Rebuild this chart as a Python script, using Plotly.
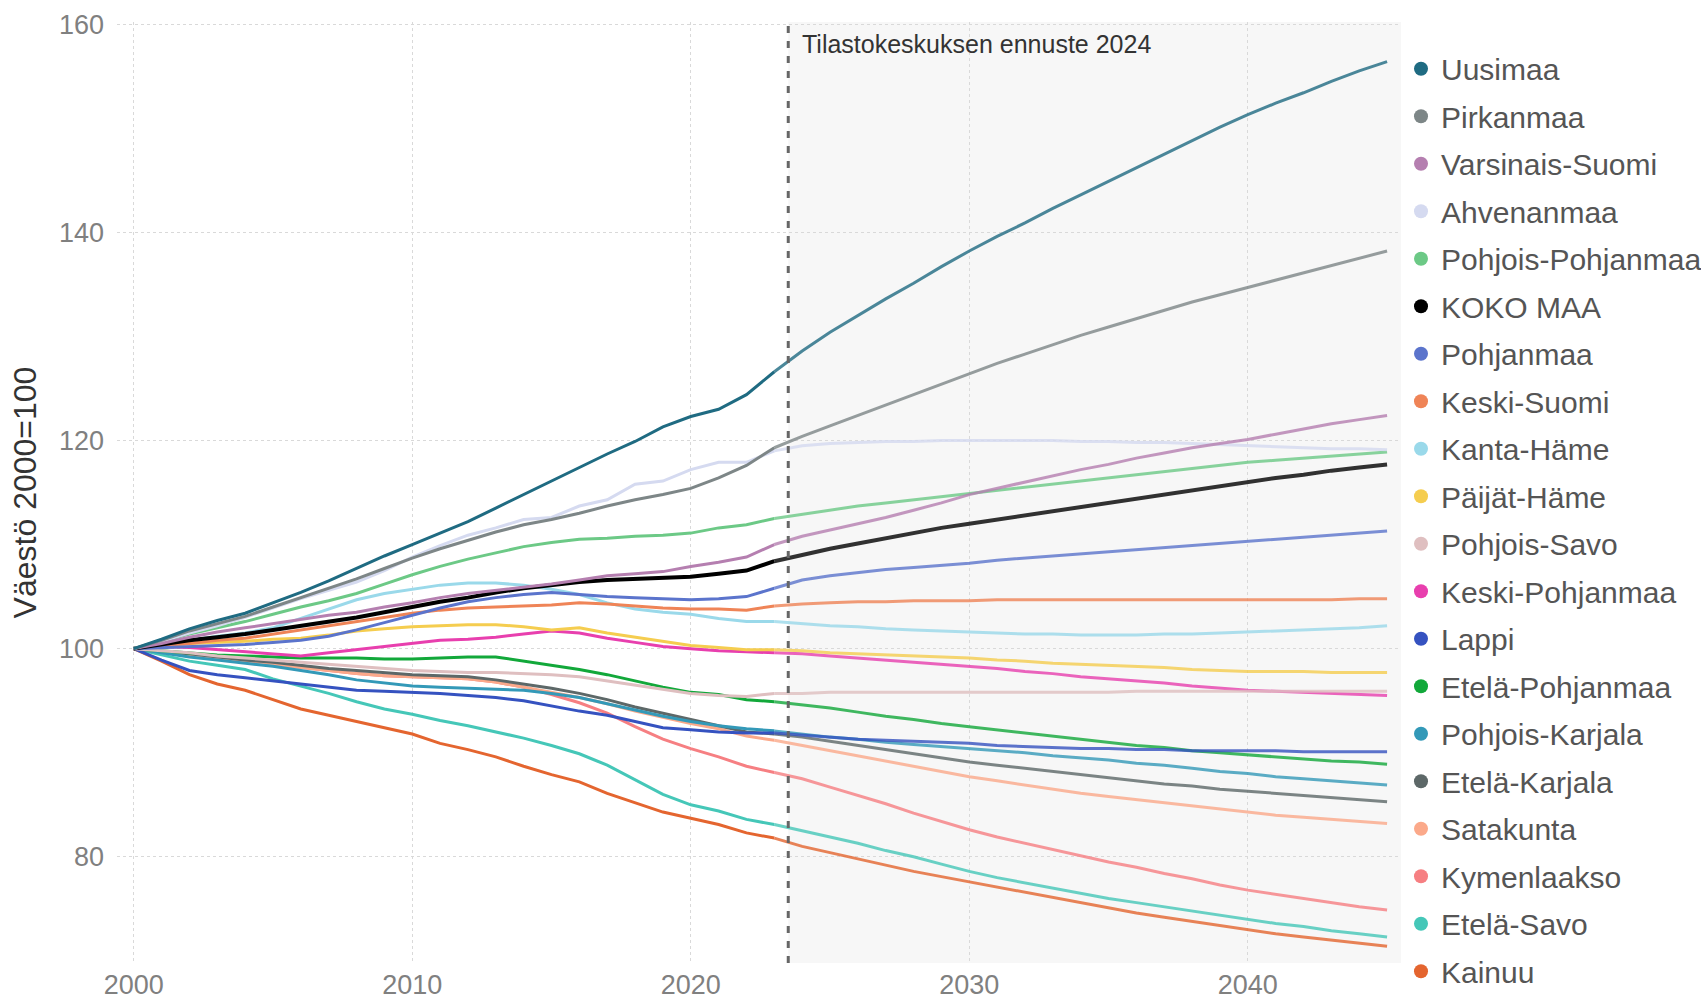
import plotly.graph_objects as go

years = [2000, 2001, 2002, 2003, 2004, 2005, 2006, 2007, 2008, 2009,
         2010, 2011, 2012, 2013, 2014, 2015, 2016, 2017, 2018, 2019,
         2020, 2021, 2022, 2023, 2024, 2025, 2026, 2027, 2028, 2029,
         2030, 2031, 2032, 2033, 2034, 2035, 2036, 2037, 2038, 2039,
         2040, 2041, 2042, 2043, 2044, 2045]
last_actual_year = 2023
forecast_boundary = 2023.5
annotation_text = "Tilastokeskuksen ennuste 2024"
y_title = "Väestö 2000=100"

uusimaa = [100.0, 100.9, 101.9, 102.7, 103.4, 104.4, 105.4, 106.5, 107.7, 108.9,
           110.0, 111.1, 112.2, 113.5, 114.8, 116.1, 117.4, 118.7, 119.9, 121.3,
           122.3, 123.0, 124.4, 126.6, 128.6, 130.4, 132.0, 133.6, 135.1, 136.7,
           138.2, 139.6, 140.9, 142.3, 143.6, 144.9, 146.2, 147.5, 148.8, 150.1,
           151.3, 152.4, 153.4, 154.5, 155.5, 156.4]
pirkanmaa = [100.0, 100.8, 101.7, 102.4, 103.1, 104.0, 104.9, 105.8, 106.7, 107.7,
             108.7, 109.6, 110.4, 111.2, 111.9, 112.4, 113.0, 113.7, 114.3, 114.8,
             115.4, 116.4, 117.6, 119.3, 120.4, 121.4, 122.4, 123.4, 124.4, 125.4,
             126.4, 127.4, 128.3, 129.2, 130.1, 130.9, 131.7, 132.5, 133.3, 134.0,
             134.7, 135.4, 136.1, 136.8, 137.5, 138.2]
varsinais_suomi = [100.0, 100.5, 101.1, 101.6, 102.0, 102.4, 102.8, 103.2, 103.5, 104.0,
                   104.4, 104.9, 105.3, 105.6, 105.9, 106.2, 106.6, 107.0, 107.2, 107.4,
                   107.9, 108.3, 108.8, 110.0, 110.8, 111.4, 112.0, 112.6, 113.3, 114.0,
                   114.8, 115.4, 116.0, 116.6, 117.2, 117.7, 118.3, 118.8, 119.3, 119.7,
                   120.1, 120.6, 121.1, 121.6, 122.0, 122.4]
ahvenanmaa = [100.0, 100.7, 101.5, 102.2, 103.0, 103.9, 104.8, 105.6, 106.4, 107.5,
              108.8, 109.9, 110.9, 111.6, 112.4, 112.6, 113.7, 114.3, 115.8, 116.1,
              117.2, 117.9, 117.9, 119.0, 119.5, 119.7, 119.8, 119.9, 119.9, 120.0,
              120.0, 120.0, 120.0, 120.0, 119.9, 119.9, 119.8, 119.8, 119.7, 119.6,
              119.5, 119.4, 119.3, 119.2, 119.2, 119.1]
pohjois_pohjanmaa = [100.0, 100.7, 101.4, 102.0, 102.6, 103.3, 104.0, 104.6, 105.3, 106.2,
                     107.1, 107.9, 108.6, 109.2, 109.8, 110.2, 110.5, 110.6, 110.8, 110.9,
                     111.1, 111.6, 111.9, 112.5, 112.9, 113.3, 113.7, 114.0, 114.3, 114.6,
                     114.9, 115.2, 115.5, 115.8, 116.1, 116.4, 116.7, 117.0, 117.3, 117.6,
                     117.9, 118.1, 118.3, 118.5, 118.7, 118.9]
koko_maa = [100.0, 100.4, 100.8, 101.1, 101.4, 101.8, 102.2, 102.6, 103.0, 103.5,
            104.0, 104.5, 104.9, 105.4, 105.8, 106.1, 106.4, 106.6, 106.7, 106.8,
            106.9, 107.2, 107.5, 108.4, 109.0, 109.6, 110.1, 110.6, 111.1, 111.6,
            112.0, 112.4, 112.8, 113.2, 113.6, 114.0, 114.4, 114.8, 115.2, 115.6,
            116.0, 116.4, 116.7, 117.1, 117.4, 117.7]
pohjanmaa = [100.0, 100.1, 100.2, 100.3, 100.4, 100.6, 100.8, 101.2, 101.8, 102.5,
             103.2, 103.9, 104.5, 104.9, 105.2, 105.4, 105.2, 105.0, 104.9, 104.8,
             104.7, 104.8, 105.0, 105.8, 106.6, 107.0, 107.3, 107.6, 107.8, 108.0,
             108.2, 108.5, 108.7, 108.9, 109.1, 109.3, 109.5, 109.7, 109.9, 110.1,
             110.3, 110.5, 110.7, 110.9, 111.1, 111.3]
keski_suomi = [100.0, 100.3, 100.5, 100.8, 101.0, 101.4, 101.8, 102.2, 102.6, 103.0,
               103.4, 103.7, 103.9, 104.0, 104.1, 104.2, 104.4, 104.3, 104.1, 103.9,
               103.8, 103.8, 103.7, 104.1, 104.3, 104.4, 104.5, 104.5, 104.6, 104.6,
               104.6, 104.7, 104.7, 104.7, 104.7, 104.7, 104.7, 104.7, 104.7, 104.7,
               104.7, 104.7, 104.7, 104.7, 104.8, 104.8]
kanta_hame = [100.0, 100.4, 100.8, 101.2, 101.5, 102.0, 102.9, 103.8, 104.7, 105.3,
              105.7, 106.1, 106.3, 106.3, 106.1, 105.7, 105.2, 104.4, 103.8, 103.5,
              103.3, 102.9, 102.6, 102.6, 102.4, 102.2, 102.1, 101.9, 101.8, 101.7,
              101.6, 101.5, 101.4, 101.4, 101.3, 101.3, 101.3, 101.4, 101.4, 101.5,
              101.6, 101.7, 101.8, 101.9, 102.0, 102.2]
paijat_hame = [100.0, 100.2, 100.5, 100.6, 100.7, 100.9, 101.0, 101.3, 101.7, 101.9,
               102.1, 102.2, 102.3, 102.3, 102.1, 101.8, 102.0, 101.5, 101.1, 100.7,
               100.3, 100.1, 99.9, 99.9, 99.8, 99.6, 99.5, 99.4, 99.3, 99.2,
               99.1, 98.9, 98.8, 98.6, 98.5, 98.4, 98.3, 98.2, 98.0, 97.9,
               97.8, 97.8, 97.8, 97.7, 97.7, 97.7]
pohjois_savo = [100.0, 99.8, 99.6, 99.3, 99.1, 98.9, 98.7, 98.5, 98.3, 98.1,
                97.9, 97.8, 97.7, 97.7, 97.6, 97.5, 97.3, 96.9, 96.5, 96.1,
                95.7, 95.5, 95.4, 95.7, 95.7, 95.8, 95.8, 95.8, 95.8, 95.8,
                95.8, 95.8, 95.8, 95.8, 95.8, 95.8, 95.9, 95.9, 95.9, 95.9,
                95.9, 95.9, 95.9, 95.9, 95.9, 95.9]
keski_pohjanmaa = [100.0, 100.2, 100.1, 99.9, 99.7, 99.5, 99.3, 99.6, 99.9, 100.2,
                   100.5, 100.8, 100.9, 101.1, 101.4, 101.7, 101.5, 101.0, 100.6, 100.2,
                   100.0, 99.8, 99.7, 99.6, 99.5, 99.3, 99.1, 98.9, 98.7, 98.5,
                   98.3, 98.1, 97.8, 97.6, 97.3, 97.1, 96.9, 96.7, 96.4, 96.2,
                   96.0, 95.9, 95.8, 95.7, 95.6, 95.5]
lappi = [100.0, 98.9, 97.9, 97.5, 97.2, 96.9, 96.6, 96.3, 96.0, 95.9,
         95.8, 95.7, 95.5, 95.3, 95.0, 94.5, 94.0, 93.6, 93.0, 92.4,
         92.2, 92.0, 91.9, 91.9, 91.7, 91.5, 91.3, 91.2, 91.1, 91.0,
         90.9, 90.7, 90.6, 90.5, 90.4, 90.4, 90.3, 90.3, 90.2, 90.2,
         90.2, 90.2, 90.1, 90.1, 90.1, 90.1]
etela_pohjanmaa = [100.0, 99.8, 99.6, 99.4, 99.3, 99.2, 99.1, 99.1, 99.1, 99.0,
                   99.0, 99.1, 99.2, 99.2, 98.8, 98.4, 98.0, 97.5, 96.9, 96.3,
                   95.8, 95.6, 95.1, 94.9, 94.6, 94.3, 93.9, 93.5, 93.2, 92.8,
                   92.5, 92.2, 91.9, 91.6, 91.3, 91.0, 90.7, 90.5, 90.2, 90.0,
                   89.8, 89.6, 89.4, 89.2, 89.1, 88.9]
pohjois_karjala = [100.0, 99.6, 99.2, 98.9, 98.6, 98.3, 97.9, 97.5, 97.0, 96.7,
                   96.4, 96.3, 96.2, 96.1, 96.0, 95.7, 95.3, 94.7, 94.1, 93.5,
                   93.0, 92.6, 92.3, 92.1, 91.8, 91.5, 91.3, 91.0, 90.8, 90.6,
                   90.4, 90.2, 90.0, 89.7, 89.5, 89.3, 89.0, 88.8, 88.5, 88.2,
                   88.0, 87.7, 87.5, 87.3, 87.1, 86.9]
etela_karjala = [100.0, 99.7, 99.5, 99.2, 98.9, 98.7, 98.4, 98.1, 97.9, 97.7,
                 97.5, 97.4, 97.3, 97.0, 96.6, 96.2, 95.7, 95.1, 94.4, 93.8,
                 93.2, 92.6, 92.0, 91.8, 91.5, 91.1, 90.7, 90.3, 89.9, 89.5,
                 89.1, 88.8, 88.5, 88.2, 87.9, 87.6, 87.3, 87.0, 86.8, 86.5,
                 86.3, 86.1, 85.9, 85.7, 85.5, 85.3]
satakunta = [100.0, 99.7, 99.4, 99.1, 98.8, 98.5, 98.2, 97.9, 97.6, 97.4,
             97.3, 97.2, 97.1, 96.8, 96.3, 95.8, 95.3, 94.7, 94.0, 93.4,
             92.8, 92.3, 91.6, 91.2, 90.7, 90.2, 89.7, 89.2, 88.7, 88.2,
             87.7, 87.3, 86.9, 86.5, 86.1, 85.8, 85.5, 85.2, 84.9, 84.6,
             84.3, 84.0, 83.8, 83.6, 83.4, 83.2]
kymenlaakso = [100.0, 99.7, 99.4, 99.1, 98.8, 98.5, 98.2, 97.9, 97.6, 97.4,
               97.3, 97.2, 97.1, 96.8, 96.3, 95.6, 94.8, 93.8, 92.5, 91.3,
               90.4, 89.6, 88.7, 88.1, 87.5, 86.7, 85.9, 85.1, 84.2, 83.4,
               82.6, 81.9, 81.3, 80.7, 80.1, 79.5, 79.0, 78.4, 77.9, 77.3,
               76.8, 76.4, 76.0, 75.6, 75.2, 74.9]
etela_savo = [100.0, 99.4, 98.8, 98.4, 98.0, 97.1, 96.4, 95.7, 94.9, 94.2,
              93.7, 93.1, 92.6, 92.0, 91.4, 90.7, 89.9, 88.8, 87.4, 86.0,
              85.0, 84.4, 83.6, 83.1, 82.5, 81.9, 81.3, 80.6, 80.0, 79.3,
              78.6, 78.0, 77.5, 77.0, 76.5, 76.0, 75.6, 75.2, 74.8, 74.4,
              74.0, 73.6, 73.3, 72.9, 72.6, 72.3]
kainuu = [100.0, 98.8, 97.5, 96.6, 96.0, 95.1, 94.2, 93.6, 93.0, 92.4,
          91.8, 90.9, 90.3, 89.6, 88.7, 87.9, 87.2, 86.1, 85.2, 84.3,
          83.7, 83.1, 82.3, 81.8, 81.0, 80.4, 79.8, 79.2, 78.6, 78.1,
          77.6, 77.1, 76.6, 76.1, 75.6, 75.1, 74.6, 74.2, 73.8, 73.4,
          73.0, 72.6, 72.3, 72.0, 71.7, 71.4]

region_names = ["Uusimaa", "Pirkanmaa", "Varsinais-Suomi", "Ahvenanmaa",
                "Pohjois-Pohjanmaa", "KOKO MAA", "Pohjanmaa", "Keski-Suomi",
                "Kanta-Häme", "Päijät-Häme", "Pohjois-Savo", "Keski-Pohjanmaa",
                "Lappi", "Etelä-Pohjanmaa", "Pohjois-Karjala", "Etelä-Karjala",
                "Satakunta", "Kymenlaakso", "Etelä-Savo", "Kainuu"]
region_values = [uusimaa, pirkanmaa, varsinais_suomi, ahvenanmaa,
                 pohjois_pohjanmaa, koko_maa, pohjanmaa, keski_suomi,
                 kanta_hame, paijat_hame, pohjois_savo, keski_pohjanmaa,
                 lappi, etela_pohjanmaa, pohjois_karjala, etela_karjala,
                 satakunta, kymenlaakso, etela_savo, kainuu]
region_colors = ["#1f6b82", "#7d8687", "#b57fb0", "#d5daf0",
                 "#6cc986", "#000000", "#5b74cc", "#ef8457",
                 "#9ad9ea", "#f5cd4f", "#dfbfc0", "#e83fae",
                 "#3552c0", "#12a83a", "#3399b8", "#5d6868",
                 "#fba98a", "#f67f82", "#45c7b8", "#e4652f"]

FONT = "Liberation Sans, Arial, sans-serif"

fig = go.Figure()

split = years.index(last_actual_year)
for name, vals, col in reversed(list(zip(region_names, region_values, region_colors))):
    w = 4 if name == "KOKO MAA" else 3
    fig.add_trace(go.Scatter(
        x=years[split:], y=vals[split:], mode="lines", name=name,
        line=dict(color=col, width=w), opacity=0.8,
        legendgroup=name, showlegend=False, hoverinfo="x+y+name"))
    fig.add_trace(go.Scatter(
        x=years[:split + 1], y=vals[:split + 1], mode="lines", name=name,
        line=dict(color=col, width=w),
        legendgroup=name, showlegend=False, hoverinfo="x+y+name"))

for name, col in zip(region_names, region_colors):
    fig.add_trace(go.Scatter(
        x=[None], y=[None], mode="markers", name=name,
        marker=dict(color=col, size=14), legendgroup=name, showlegend=True))

fig.add_shape(type="rect", xref="x", yref="paper",
              x0=forecast_boundary, x1=2045.5, y0=0, y1=1,
              fillcolor="#f7f7f7", line=dict(width=0), layer="below")
fig.add_shape(type="line", xref="x", yref="paper",
              x0=forecast_boundary, x1=forecast_boundary, y0=0, y1=1,
              line=dict(color="#666666", width=3, dash="7px,8px"), layer="above")

fig.add_annotation(x=forecast_boundary, xref="x", y=158.1, yref="y",
                   text=annotation_text, showarrow=False, xanchor="left",
                   xshift=12, font=dict(family=FONT, size=25, color="#333333"))

fig.update_layout(
    width=1701, height=999,
    margin=dict(l=117, r=300, t=22, b=36, autoexpand=False),
    paper_bgcolor="white", plot_bgcolor="white",
    font=dict(family=FONT),
    showlegend=True,
    legend=dict(x=1.0, xanchor="left", y=0.978, yanchor="top",
                font=dict(family=FONT, size=30, color="#555555"),
                tracegroupgap=5.5, bgcolor="rgba(0,0,0,0)",
                itemsizing="trace"),
    xaxis=dict(range=[1999.4, 2045.5], tickmode="array",
               tickvals=[2000, 2010, 2020, 2030, 2040],
               ticktext=["2000", "2010", "2020", "2030", "2040"],
               showgrid=True, gridcolor="#d9d9d9", griddash="dot", gridwidth=1,
               zeroline=False, showline=False, ticks="", ticklabelstandoff=3,
               tickfont=dict(family=FONT, size=27, color="#808080")),
    yaxis=dict(range=[69.8, 160.2], tickmode="array",
               tickvals=[80, 100, 120, 140, 160],
               showgrid=True, gridcolor="#d9d9d9", griddash="dot", gridwidth=1,
               zeroline=False, showline=False, ticks="", ticklabelstandoff=12,
               tickfont=dict(family=FONT, size=27, color="#808080"),
               title=dict(text=y_title, font=dict(family=FONT, size=32, color="#333333"),
                          standoff=12)),
)

fig.write_html("out.html", config={"displayModeBar": False},
               post_script="document.body.style.margin='0';")
